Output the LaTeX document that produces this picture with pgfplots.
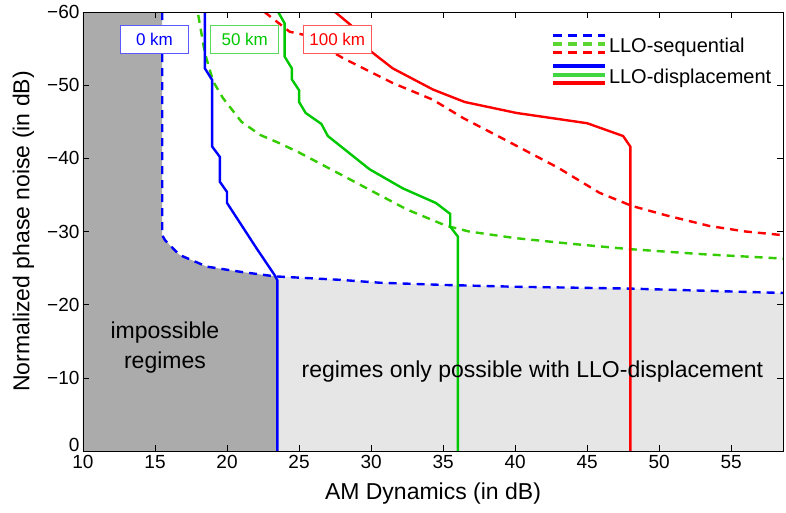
\documentclass[border=0pt]{standalone}
\usepackage{fontspec}
\setmainfont{Liberation Sans}
\usepackage{pgfplots}
\pgfplotsset{compat=1.18}
\definecolor{cblue}{HTML}{0000FF}
\definecolor{cgreen}{HTML}{00C800}
\definecolor{cgreend}{HTML}{33CC00}
\definecolor{cred}{HTML}{FF0000}
\definecolor{impgray}{HTML}{ABABAB}
\definecolor{lightgray}{HTML}{E6E6E6}
\tikzset{
  seq/.style={line width=2.4pt, dash pattern=on 8pt off 6pt},
  disp/.style={line width=2.4pt},
  kmbox/.style={fill=white, line width=0.8pt, minimum width=68pt, minimum height=28pt,
    inner sep=0pt, font=\fontsize{17}{20}\selectfont},
}
\begin{document}
\begin{tikzpicture}
\begin{axis}[
  scale only axis, width=700pt, height=439pt,
  xmin=10, xmax=58.6, ymin=-60, ymax=0, y dir=reverse,
  xtick={10,15,...,55},
  ytick={-60,-50,...,0},
  yticklabels={−60,−50,−40,−30,−20,−10,\raisebox{0pt}[0pt][0pt]{0}},
  xticklabel style={/pgf/number format/assume math mode=true, yshift=-1pt},
  tick align=inside, major tick length=6pt,
  tick style={black, line width=0.6pt},
  axis line style={black, line width=0.8pt},
  ticklabel style={font=\fontsize{19}{23}\selectfont},
  xlabel={AM Dynamics (in dB)},
  ylabel={Normalized phase noise (in dB)},
  label style={font=\fontsize{23}{27}\selectfont},
  xlabel style={at={(axis description cs:0.5,-0.096)}, anchor=center},
  ylabel style={at={(axis description cs:-0.085,0.5)}, anchor=center},
  axis on top,
  legend style={at={(axis description cs:0.664,0.955)}, anchor=north west,
    draw=none, fill=none, font=\fontsize{20}{24}\selectfont, row sep=8pt},
  legend cell align=left,
]
% regions
\addplot[fill=impgray, draw=none, forget plot] coordinates {
  (10,-60) (15.5,-60) (15.5,-29.5) (15.7,-28.8) (16.7,-26.8) (18.6,-25.2)
  (20.9,-24.5) (23.2,-23.9) (23.5,-23.85) (23.5,0) (10,0)
};
\addplot[fill=lightgray, draw=none, forget plot] coordinates {
  (23.5,-23.85) (27.8,-23.4) (30.6,-23.0) (35,-22.7) (40,-22.45)
  (47.9,-22.2) (58.6,-21.6) (58.6,0) (23.5,0)
};
% LLO-sequential
\addplot[seq, cblue, forget plot] coordinates {
  (15.5,-60) (15.5,-29.5) (15.7,-28.8) (16.7,-26.8) (18.6,-25.2)
  (20.9,-24.5) (23.2,-23.9) (23.5,-23.85) (27.8,-23.4) (30.6,-23.0)
  (35,-22.7) (40,-22.45) (47.9,-22.2) (58.6,-21.6)
};
\addplot[seq, cgreend, forget plot] coordinates {
  (18.0,-59.6) (18.46,-54.4) (19.04,-50.5) (19.73,-48.2) (21.0,-45.0)
  (22.3,-43.2) (23.66,-42.05) (25.0,-40.8) (27.5,-38.2) (29.9,-35.7)
  (32.5,-33.0) (35.2,-30.8) (36.8,-30.0) (40,-29.1) (44,-28.3)
  (47.9,-27.6) (53,-26.9) (58.6,-26.3)
};
\addplot[seq, cred, forget plot] coordinates {
  (22.6,-60) (24.35,-57.3) (25.3,-56.9) (28.05,-53.7) (31.5,-50.3)
  (34.3,-48.0) (36.4,-45.5) (38.9,-42.95) (43.0,-38.7) (45.85,-35.3)
  (48.1,-33.5) (50.5,-32.2) (53.5,-30.75) (56,-30.0) (58.6,-29.5)
};
% LLO-displacement
\addplot[disp, cblue, forget plot] coordinates {
  (18.46,-60) (18.46,-52.3) (18.97,-50.7) (18.97,-41.6) (19.5,-40.2)
  (19.5,-36.8) (20.0,-35.4) (20.0,-33.9) (22.05,-27.7) (23.3,-24.05)
  (23.5,-23.3) (23.5,0)
};
\addplot[disp, cgreen, forget plot] coordinates {
  (23.55,-60) (24.0,-58.45) (24.0,-53.9) (24.5,-52.3) (24.5,-50.8)
  (25.0,-49.3) (25.0,-47.7) (25.46,-46.2) (26.55,-44.7) (27.0,-43.05)
  (29.9,-38.5) (32.2,-35.9) (34.5,-33.9) (35.5,-32.4) (35.5,-30.65)
  (36.03,-29.3) (36.03,0)
};
\addplot[disp, cred, forget plot] coordinates {
  (27.5,-60) (28.6,-58.2) (30.0,-54.6) (31.5,-52.3) (34.3,-49.4)
  (36.5,-47.7) (40.1,-46.2) (45.0,-44.8) (47.5,-43.05) (48.0,-41.6)
  (48.0,0)
};
% legend
\addlegendimage{legend image code/.code={
  \draw[cblue, line width=3.5pt, dash pattern=on 9pt off 6pt] (0pt,10.5pt) -- (52pt,10.5pt);
  \draw[cgreend!80, line width=3.5pt, dash pattern=on 9pt off 6pt] (0pt,2pt) -- (52pt,2pt);
  \draw[cred, line width=3.5pt, dash pattern=on 9pt off 6pt] (0pt,-6.5pt) -- (52pt,-6.5pt);
}}
\addlegendentry{LLO-sequential}
\addlegendimage{legend image code/.code={
  \draw[cblue, line width=4pt] (0pt,10.5pt) -- (52pt,10.5pt);
  \draw[cgreen!75, line width=4pt] (0pt,2pt) -- (52pt,2pt);
  \draw[cred, line width=4pt] (0pt,-6.5pt) -- (52pt,-6.5pt);
}}
\addlegendentry{LLO-displacement}
% labels
\node[kmbox, draw=cblue!65, text=cblue] at (axis cs:14.96,-56.3) {0 km};
\node[kmbox, draw=cgreen!65, text=cgreen] at (axis cs:21.23,-56.3) {50 km};
\node[kmbox, draw=cred!65, text=cred] at (axis cs:27.65,-56.3) {100 km};
\node[align=center, font=\fontsize{23}{30}\selectfont] at (axis cs:15.69,-14.2) {impossible\\regimes};
\node[font=\fontsize{23}{27}\selectfont] at (axis cs:41.2,-10.8) {regimes only possible with LLO-displacement};
\end{axis}
\pgfresetboundingbox
\path ([shift={(-83pt,-62pt)}]current axis.south west) rectangle ([shift={(3pt,12pt)}]current axis.north east);
\end{tikzpicture}
\end{document}
